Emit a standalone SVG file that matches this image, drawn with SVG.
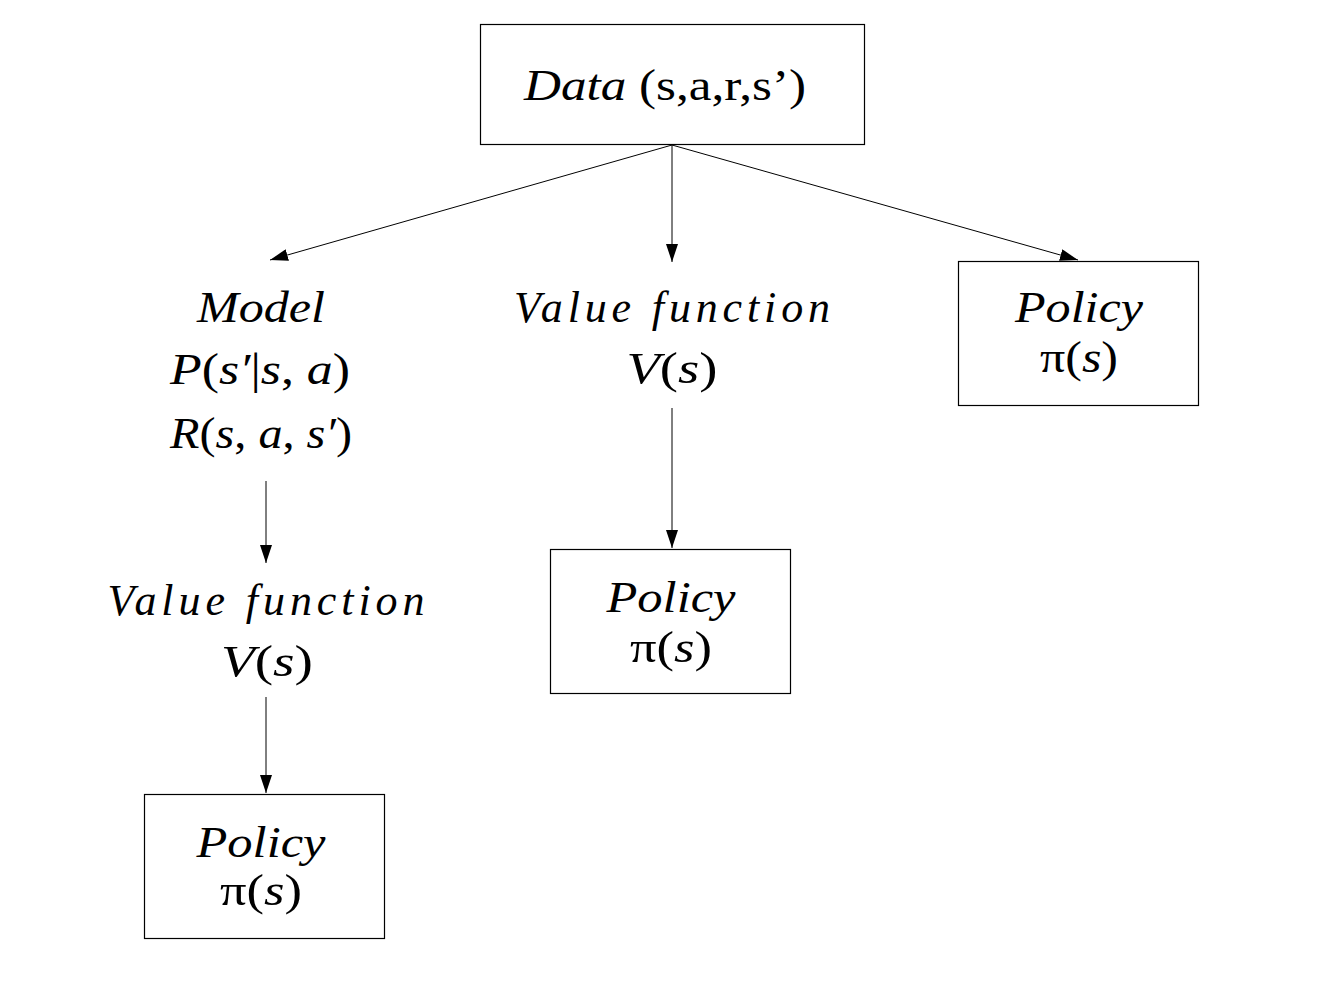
<svg xmlns="http://www.w3.org/2000/svg" width="1323" height="992" viewBox="0 0 1323 992">
<style>
.box{fill:none;stroke:#000;stroke-width:1.2}
.t{font-family:"Liberation Serif","Times New Roman",serif;font-size:44px;fill:#000;text-anchor:middle}
.i{font-style:italic}
.c{stroke:#000;stroke-width:1;fill:none;marker-end:url(#ah)}
</style>
<defs>
<marker id="ah" markerWidth="18" markerHeight="12" refX="18" refY="6" orient="auto" markerUnits="userSpaceOnUse">
<path d="M0,0 L18,6 L0,12 Z" fill="#000"/>
</marker>
</defs>
<rect width="1323" height="992" fill="#fff"/>
<g id="connectors">
<line class="c" x1="672" y1="145" x2="270" y2="260"/>
<line class="c" x1="672" y1="145" x2="672" y2="262"/>
<line class="c" x1="672" y1="145" x2="1078" y2="260"/>
<line class="c" x1="672" y1="408" x2="672" y2="548"/>
<line class="c" x1="266" y1="481" x2="266" y2="563"/>
<line class="c" x1="266" y1="697" x2="266" y2="793"/>
</g>
<g id="data">
<rect class="box" x="480.5" y="24.5" width="384" height="120"/>
<text class="t" x="665" y="100" textLength="282" lengthAdjust="spacingAndGlyphs"><tspan class="i">Data</tspan> (s,a,r,s’)</text>
</g>
<g id="model">
<text class="t i" x="261" y="322" textLength="128" lengthAdjust="spacingAndGlyphs">Model</text>
<text class="t" x="260" y="384" textLength="180" lengthAdjust="spacingAndGlyphs"><tspan class="i">P</tspan>(<tspan class="i">s′</tspan>|<tspan class="i">s</tspan>, <tspan class="i">a</tspan>)</text>
<text class="t" x="261" y="448" textLength="182" lengthAdjust="spacingAndGlyphs"><tspan class="i">R</tspan>(<tspan class="i">s</tspan>, <tspan class="i">a</tspan>, <tspan class="i">s′</tspan>)</text>
</g>
<g id="value-mid">
<text class="t i" x="672" y="322" textLength="316" lengthAdjust="spacing">Value function</text>
<text class="t" x="672" y="383" textLength="91" lengthAdjust="spacingAndGlyphs"><tspan class="i">V</tspan>(<tspan class="i">s</tspan>)</text>
</g>
<g id="policy-right">
<rect class="box" x="958.5" y="261.5" width="240" height="144"/>
<text class="t i" x="1079" y="322" textLength="128" lengthAdjust="spacingAndGlyphs">Policy</text>
<text class="t" x="1079" y="372" textLength="78" lengthAdjust="spacingAndGlyphs">π(<tspan class="i">s</tspan>)</text>
</g>
<g id="value-left">
<text class="t i" x="266" y="615" textLength="317" lengthAdjust="spacing">Value function</text>
<text class="t" x="267" y="676" textLength="92" lengthAdjust="spacingAndGlyphs"><tspan class="i">V</tspan>(<tspan class="i">s</tspan>)</text>
</g>
<g id="policy-mid">
<rect class="box" x="550.5" y="549.5" width="240" height="144"/>
<text class="t i" x="671" y="612" textLength="129" lengthAdjust="spacingAndGlyphs">Policy</text>
<text class="t" x="671" y="662" textLength="82" lengthAdjust="spacingAndGlyphs">π(<tspan class="i">s</tspan>)</text>
</g>
<g id="policy-bottom">
<rect class="box" x="144.5" y="794.5" width="240" height="144"/>
<text class="t i" x="261" y="857" textLength="129" lengthAdjust="spacingAndGlyphs">Policy</text>
<text class="t" x="261" y="905" textLength="82" lengthAdjust="spacingAndGlyphs">π(<tspan class="i">s</tspan>)</text>
</g>
</svg>
